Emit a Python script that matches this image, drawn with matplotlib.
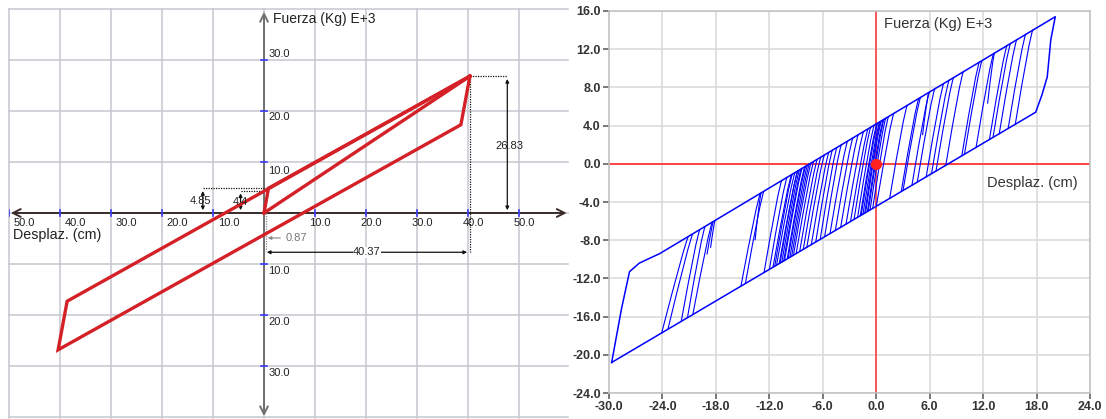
import matplotlib
matplotlib.use("Agg")
import matplotlib.pyplot as plt
from matplotlib.patches import FancyArrowPatch, PathPatch
from matplotlib.path import Path

# ---------------- left panel: idealised bilinear loop ----------------
initial_x = [0.0, 0.87, 40.37]
initial_y = [0.0, 4.85, 26.83]
secant_x = [0.0, 40.37]
secant_y = [0.0, 26.83]
loop_x = [40.37, 38.6, -40.37, -38.6, 40.37]
loop_y = [26.83, 17.3, -26.83, -17.3, 26.83]

left_xticks = [-50, -40, -30, -20, -10, 10, 20, 30, 40, 50]
left_xlabels = ["50.0", "40.0", "30.0", "20.0", "10.0", "10.0", "20.0", "30.0", "40.0", "50.0"]
left_yticks = [-30, -20, -10, 10, 20, 30]
left_ylabels = ["30.0", "20.0", "10.0", "10.0", "20.0", "30.0"]

peak_disp = 40.37
peak_force = 26.83
yield_force = 4.85
char_force = 4.4
yield_disp = 0.87

# ---------------- right panel: recorded hysteresis ----------------
envelope_x = [-29.7, 17.9, 18.6, 19.2, 19.6, 20.1, -24.3, -26.6, -27.7, -28.6, -29.7]
envelope_y = [-20.8, 5.4, 7.2, 9.1, 13.0, 15.4, -9.4, -10.4, -11.3, -15.2, -20.8]

branch_x_bot = [-24.1, -23.4, -21.9, -21.2, -20.6, -19.0, -18.6,
                -15.2, -14.7, -13.6, -12.6, -12.0, -11.6, -11.4, -11.2, -10.9, -10.8, -10.6,
                -10.4, -10.3, -10.0, -9.9, -9.7, -9.5, -9.3, -9.0, -8.6, -8.2, -7.8, -7.3,
                -6.8, -6.3, -5.8, -5.2, -4.6, -4.0, -3.4, -2.9, -2.5, -2.1, -1.8, -1.7,
                -1.5, -1.3, -1.2, -1.0, -0.9, -0.7, -0.4,
                0.0, 1.5, 2.8, 3.0, 4.0, 4.6, 5.2, 5.6, 6.2, 6.7, 7.8, 9.6, 9.9,
                11.2, 12.5, 12.7, 13.1, 13.8, 14.8, 15.6]
branch_y_bot = [-17.76, -17.37, -16.55, -16.16, -15.83, -9.5, -8.8,
                -12.86, -12.59, -8.0, -11.43, -11.10, -10.88, -10.77, -10.66, -10.50, -10.44, -10.33,
                -10.22, -10.17, -10.00, -9.95, -9.84, -9.73, -9.62, -9.45, -9.23, -9.01, -8.79, -8.52,
                -8.24, -7.97, -7.69, -7.36, -7.03, -6.70, -6.37, -6.10, -5.88, -5.66, -5.49, -5.44,
                -5.33, -5.22, -5.16, -5.05, -4.99, -4.89, -4.72,
                -4.50, -3.68, -2.96, -2.85, -2.30, -1.97, 3.0, -1.42, -1.09, -0.82, -0.21, 0.78, 0.95,
                1.66, 6.3, 2.49, 2.71, 3.09, 3.64, 4.08]
branch_x_top = [-21.1, -20.6, -19.8, -19.2, -18.4, -18.3, -18.1,
                -13.0, -12.6, -12.9, -10.6, -10.0, -9.5, -9.4, -9.1, -8.8, -8.8, -8.6,
                -8.4, -8.3, -8.0, -7.9, -7.7, -7.5, -7.3, -7.0, -6.6, -6.2, -5.8, -5.3,
                -4.9, -4.4, -3.9, -3.2, -2.6, -2.0, -1.4, -0.9, -0.6, -0.2, 0.1, 0.2,
                0.4, 0.5, 0.6, 0.8, 0.9, 1.1, 1.4,
                2.0, 3.5, 4.8, 5.0, 6.0, 6.6, 5.9, 7.6, 8.2, 8.7, 9.8, 11.6, 11.9,
                13.2, 13.3, 14.7, 15.1, 15.8, 16.8, 17.6]
branch_y_top = [-7.62, -7.34, -6.89, -6.55, -6.10, -6.05, -5.94,
                -3.08, -2.86, -3.02, -1.74, -1.40, -1.12, -1.06, -0.90, -0.73, -0.73, -0.62,
                -0.50, -0.45, -0.28, -0.22, -0.11, 0.00, 0.11, 0.28, 0.50, 0.73, 0.95, 1.23,
                1.46, 1.74, 2.02, 2.41, 2.74, 3.08, 3.42, 3.70, 3.86, 4.09, 4.26, 4.31,
                4.42, 4.48, 4.54, 4.65, 4.70, 4.82, 4.98,
                5.32, 6.16, 6.89, 7.00, 7.56, 7.90, 7.50, 8.46, 8.79, 9.07, 9.69, 10.70, 10.86,
                11.59, 11.65, 12.43, 12.66, 13.05, 13.61, 14.06]

right_xticks = [-30, -24, -18, -12, -6, 0, 6, 12, 18, 24]
right_yticks = [-24, -20, -16, -12, -8, -4, 0, 4, 8, 12, 16]

plt.rcParams["font.family"] = ["Liberation Sans", "DejaVu Sans"]

fig = plt.figure(figsize=(11.06, 4.19), dpi=100)
W, H = 1106.0, 419.0

# ---------------- left panel ----------------
axl = fig.add_axes([9 / W, 1 - 418 / H, (568 - 9) / W, (418 - 9) / H])
axl.set_xlim(-50, 59.6)
axl.set_ylim(-40.2, 40)
for s in axl.spines.values():
    s.set_visible(False)
axl.set_xticks([])
axl.set_yticks([])
grid_c = "#c6c6cf"
for gx in range(-50, 60, 10):
    axl.plot([gx, gx], [-40.2, 40], color=grid_c, lw=1.1, zorder=0, clip_on=False)
for gy in range(-40, 50, 10):
    axl.plot([-50, 59.6], [gy, gy], color=grid_c, lw=1.1, zorder=0, clip_on=False)

# axes with open arrowheads
axl.add_patch(FancyArrowPatch((-50.2, 0), (59.9, 0), arrowstyle="<->", mutation_scale=14,
                              color="#3b2b2b", lw=1.4, zorder=3, clip_on=False))
axl.add_patch(FancyArrowPatch((0, -40.4), (0, 40.0), arrowstyle="<->", mutation_scale=14,
                              color="#707070", lw=1.4, zorder=3, clip_on=False))

# blue tick marks
for tx in left_xticks:
    axl.plot([tx, tx], [-0.6, 0.6], color="#3a3aff", lw=1.2, zorder=4)
for ty in left_yticks:
    axl.plot([-0.6, 0.6], [ty, ty], color="#3a3aff", lw=1.2, zorder=4)

for tx, lab in zip(left_xticks, left_xlabels):
    off = 0.9 if tx < 0 else -1.1
    axl.text(tx + off, -0.9, lab, fontsize=8, color="#222222", ha="left", va="top", zorder=5)
label_y = {30: 31.2, 20: 18.8, 10: 8.2, -10: -11.3, -20: -21.3, -30: -31.3}
for ty, lab in zip(left_yticks, left_ylabels):
    axl.text(0.8, label_y[ty], lab, fontsize=8, color="#222222", ha="left", va="center", zorder=5)

axl.text(1.7, 38.1, "Fuerza (Kg) E+3", fontsize=10, color="#222222", ha="left", va="center")
axl.text(-49.2, -4.3, "Desplaz. (cm)", fontsize=10.3, color="#222222", ha="left", va="center")

# the loop, the first loading path and the secant to the peak
red = "#d42027"
axl.plot(initial_x, initial_y, color=red, lw=2.4, solid_joinstyle="miter", zorder=6)
axl.plot(secant_x, secant_y, color=red, lw=2.4, zorder=6)
axl.plot(loop_x, loop_y, color=red, lw=2.4, solid_joinstyle="miter", zorder=6)

# dimension lines
dim_kw = dict(color="#111111", lw=0.9, zorder=5)
axl.plot([peak_disp, 47.7], [peak_force, peak_force], ls=(0, (1, 1)), **dim_kw)
axl.add_patch(FancyArrowPatch((47.7, 0), (47.7, peak_force), arrowstyle="<|-|>", mutation_scale=5,
                              color="#111111", lw=0.9, zorder=5))
axl.text(48.1, 13.2, f"{peak_force:.2f}", fontsize=8, ha="center", va="center", color="#222222", zorder=6)
axl.plot([peak_disp, peak_disp], [peak_force, -7.7], ls=(0, (1, 1)), **dim_kw)
axl.add_patch(FancyArrowPatch((0, -7.7), (peak_disp, -7.7), arrowstyle="<|-|>", mutation_scale=5,
                              color="#111111", lw=0.9, zorder=5))
axl.text(20.2, -7.7, f"{peak_disp:.2f}", fontsize=8, ha="center", va="center", color="#222222",
         bbox=dict(fc="white", ec="none", pad=0.3), zorder=6)

axl.plot([-12.0, yield_disp], [yield_force, yield_force], ls=(0, (1, 1)), **dim_kw)
axl.add_patch(FancyArrowPatch((-12.0, 0), (-12.0, yield_force), arrowstyle="<|-|>", mutation_scale=5,
                              color="#111111", lw=0.9, zorder=5))
axl.text(-12.4, 2.3, f"{yield_force:.2f}", fontsize=8, ha="center", va="center", color="#222222", zorder=6)
axl.plot([-4.6, 0.0], [char_force, char_force], ls=(0, (1, 1)), **dim_kw)
axl.add_patch(FancyArrowPatch((-4.6, 0), (-4.6, char_force), arrowstyle="<|-|>", mutation_scale=5,
                              color="#111111", lw=0.9, zorder=5))
axl.text(-4.6, 2.1, f"{char_force}", fontsize=8, ha="center", va="center", color="#222222", zorder=6)

axl.plot([0.4, 0.4], [0, -7.5], ls=(0, (1, 1)), color="#888888", lw=0.9, zorder=5)
axl.annotate(f"{yield_disp:.2f}", xy=(0.2, -4.9), xytext=(4.3, -4.9), fontsize=8, color="#777777",
             va="center", ha="left",
             arrowprops=dict(arrowstyle="-|>", color="#888888", lw=0.8, mutation_scale=5), zorder=6)

# ---------------- right panel ----------------
axr = fig.add_axes([609 / W, 1 - 393 / H, (1090 - 609) / W, (393 - 11) / H])
axr.set_xlim(-30, 24)
axr.set_ylim(-24, 16)
axr.set_xticks(right_xticks)
axr.set_yticks(right_yticks)
axr.set_xticklabels([f"{v:.1f}" for v in right_xticks])
axr.set_yticklabels([f"{v:.1f}" for v in right_yticks])
axr.grid(True, color="#d8d8d8", lw=1.1)
axr.set_axisbelow(True)
for s in axr.spines.values():
    s.set_color("#c0c0c0")
    s.set_linewidth(1.1)
axr.tick_params(direction="out", length=4, width=1.1, color="#555555", pad=2,
                labelsize=9, labelcolor="#333333")
for lab in axr.get_xticklabels() + axr.get_yticklabels():
    lab.set_fontweight("bold")

axr.axhline(0, color="#ff4040", lw=1.4, zorder=1)
axr.axvline(0, color="#ff4040", lw=1.2, zorder=1)

blue = "#0000ff"
axr.plot(envelope_x, envelope_y, color=blue, lw=1.1, zorder=3)
# each reloading branch: steep at its start, rounding into the upper envelope
for xb, yb, xt, yt in zip(branch_x_bot, branch_y_bot, branch_x_top, branch_y_top):
    k = (yt - yb) / 9.7
    ctrl = (xt - 0.35 * k, yt - 0.6 * k)
    path = Path([(xb, yb), ctrl, (xt, yt)], [Path.MOVETO, Path.CURVE3, Path.CURVE3])
    axr.add_patch(PathPatch(path, fc="none", ec=blue, lw=0.8, zorder=3))

axr.plot([0], [0], "o", color="#ff2020", ms=7, zorder=5)
axr.text(0.9, 14.6, "Fuerza (Kg) E+3", fontsize=10.5, color="#333333", ha="left", va="center")
axr.text(12.4, -2.0, "Desplaz. (cm)", fontsize=10.5, color="#333333", ha="left", va="center")

fig.savefig("out.png", dpi=100)
